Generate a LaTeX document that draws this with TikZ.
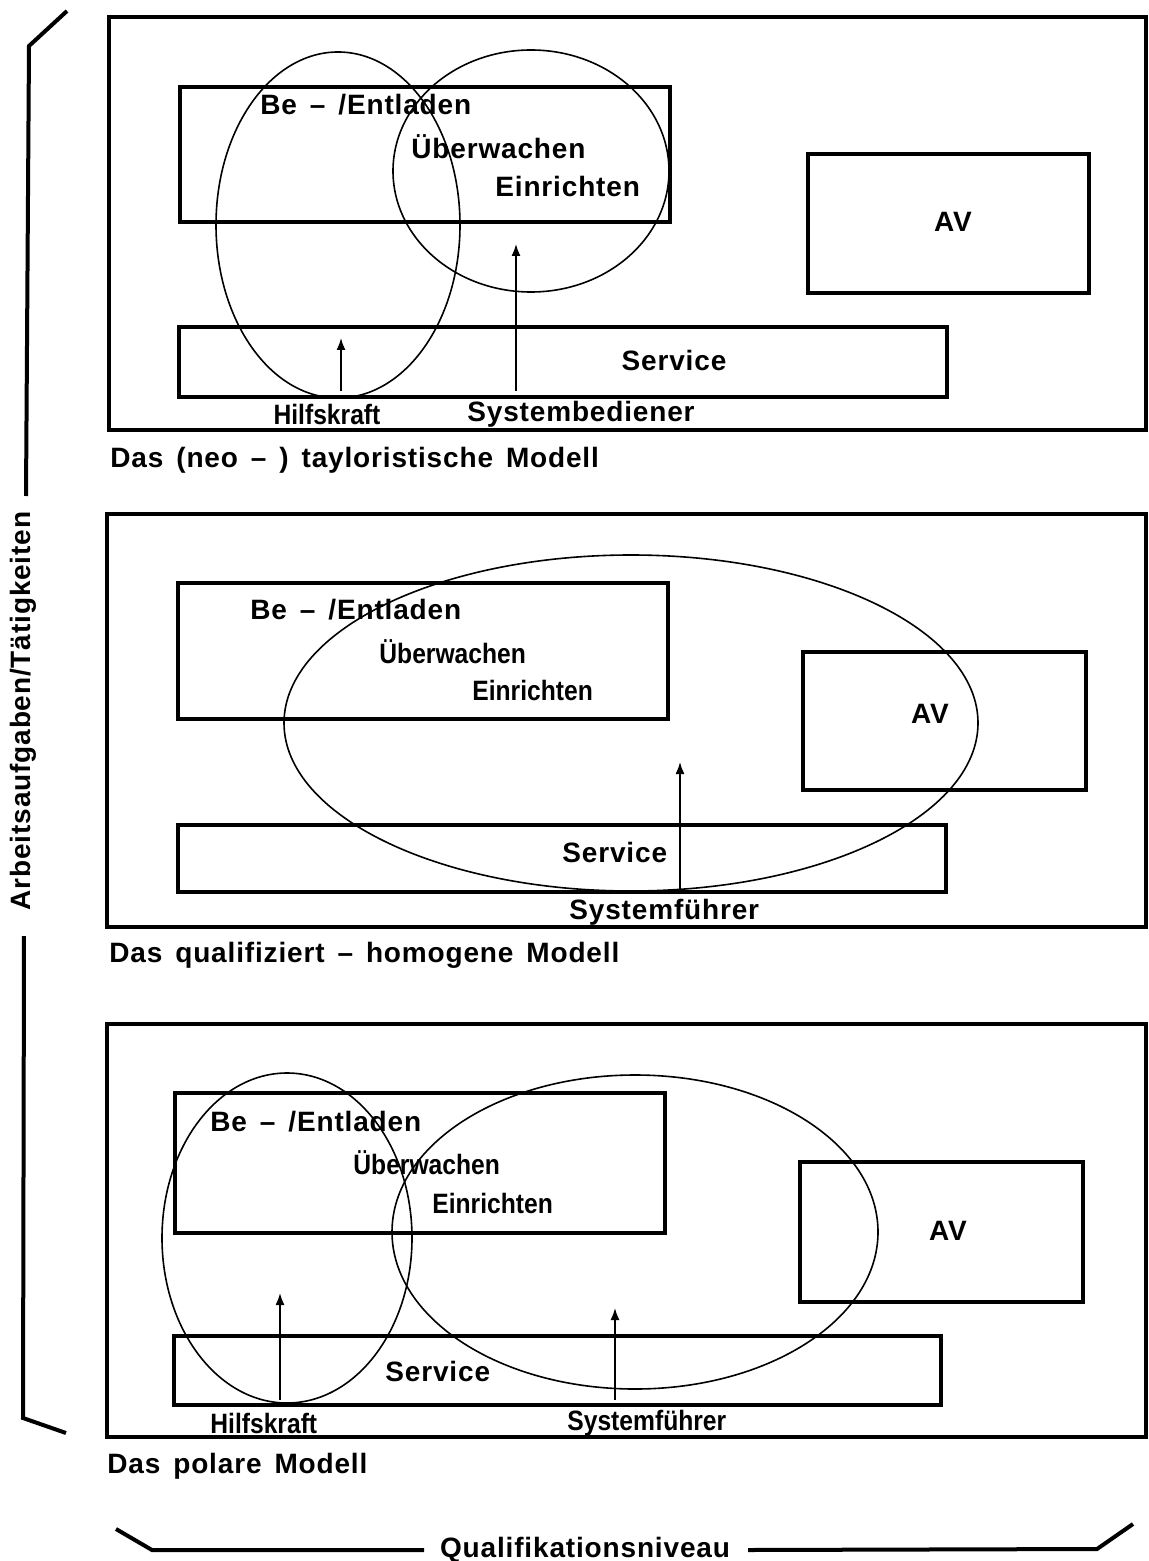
\documentclass[tikz,border=0pt]{standalone}
\usepackage{fontspec}
\usepackage{tikz}
\usetikzlibrary{arrows.meta}
\setmainfont{Liberation Sans}
\newfontfamily\spc[LetterSpace=3,WordSpace=1.5]{Liberation Sans}
\newfontfamily\cnd[FakeStretch=0.88]{Liberation Sans}

\tikzset{
  frame/.style={line width=2pt},
  taskbox/.style={line width=2pt},
  group/.style={line width=0.8pt},
  bracket/.style={line width=2pt},
  lift/.style={-{Latex[length=6pt,width=4.5pt]}, line width=0.8pt},
  spaced/.style={inner sep=0pt, font=\spc\bfseries\fontsize{14}{16}\selectfont},
  tight/.style={inner sep=0pt, font=\cnd\bfseries\fontsize{14}{16}\selectfont},
}

\begin{document}
\begin{tikzpicture}[x=0.5pt, y=-0.5pt]
\useasboundingbox (0,0) rectangle (1148,1561);

% axes of the figure
\draw[bracket] (67,11) -- (29,46) -- (26,496);
\node[spaced, rotate=90] (tasks) at (23,711) {Arbeitsaufgaben/Tätigkeiten};
\draw[bracket] (24,936) -- (23,1418) -- (66,1433);
\draw[bracket] (116,1529) -- (152,1550) -- (424,1550);
\node[spaced] (qual) at (585,1550) {Qualifikationsniveau};
\draw[bracket] (748,1550) -- (1097,1549) -- (1133,1524);

% model 1: (neo-) taylorist
\draw[frame] (109,17) rectangle (1146,430);
\draw[taskbox] (180,87) rectangle (670,222);
\draw[taskbox] (808,154) rectangle (1089,293);
\draw[taskbox] (179,327) rectangle (947,397);
\draw[group] (338,225) ellipse [x radius=122, y radius=173];
\draw[group] (531,171) ellipse [x radius=138, y radius=121];
\node[spaced, anchor=west] (load1) at (260,105) {Be – /Entladen};
\node[spaced, anchor=west] (watch1) at (411,147) {Überwachen};
\node[spaced, anchor=west] (setup1) at (495,186) {Einrichten};
\node[spaced] (av1) at (953,222) {AV};
\node[spaced] (serv1) at (674,360) {Service};
\node[tight] (help1) at (327,414) {Hilfskraft};
\node[spaced, anchor=west] (oper1) at (467,414) {Systembediener};
\coordinate (help1a) at (341,391);
\coordinate (help1b) at (341,338);
\coordinate (oper1a) at (516,391);
\coordinate (oper1b) at (516,244);
\draw[lift] (help1a) -- (help1b);
\draw[lift] (oper1a) -- (oper1b);
\node[spaced, anchor=west] (cap1) at (110,460) {Das (neo – ) tayloristische Modell};

% model 2: qualified homogeneous
\draw[frame] (107,514) rectangle (1146,927);
\draw[taskbox] (178,583) rectangle (668,719);
\draw[taskbox] (803,652) rectangle (1086,790);
\draw[taskbox] (178,825) rectangle (946,892);
\draw[group] (631,723) ellipse [x radius=347, y radius=168];
\node[spaced, anchor=west] (load2) at (250,610) {Be – /Entladen};
\node[tight, anchor=west] (watch2) at (379,652) {Überwachen};
\node[tight, anchor=west] (setup2) at (472,690) {Einrichten};
\node[spaced] (av2) at (930,714) {AV};
\node[spaced, anchor=west] (serv2) at (562,852) {Service};
\node[spaced, anchor=west] (lead2) at (569,912) {Systemführer};
\coordinate (lead2a) at (680,890);
\coordinate (lead2b) at (680,762);
\draw[lift] (lead2a) -- (lead2b);
\node[spaced, anchor=west] (cap2) at (109,955) {Das qualifiziert – homogene Modell};

% model 3: polar
\draw[frame] (107,1024) rectangle (1146,1437);
\draw[taskbox] (175,1093) rectangle (665,1233);
\draw[taskbox] (800,1162) rectangle (1083,1302);
\draw[taskbox] (174,1336) rectangle (941,1405);
\draw[group] (287,1238) ellipse [x radius=125, y radius=165];
\draw[group] (635,1232) ellipse [x radius=243, y radius=157];
\node[spaced, anchor=west] (load3) at (210,1122) {Be – /Entladen};
\node[tight, anchor=west] (watch3) at (353,1163) {Überwachen};
\node[tight, anchor=west] (setup3) at (432,1203) {Einrichten};
\node[spaced] (av3) at (948,1231) {AV};
\node[spaced, anchor=west] (serv3) at (385,1371) {Service};
\node[tight, anchor=west] (help3) at (210,1423) {Hilfskraft};
\node[tight, anchor=west] (lead3) at (567,1423) {Systemführer};
\coordinate (help3a) at (280,1400);
\coordinate (help3b) at (280,1293);
\coordinate (lead3a) at (615,1400);
\coordinate (lead3b) at (615,1308);
\draw[lift] (help3a) -- (help3b);
\draw[lift] (lead3a) -- (lead3b);
\node[spaced, anchor=west] (cap3) at (107,1466) {Das polare Modell};
\end{tikzpicture}
\end{document}
